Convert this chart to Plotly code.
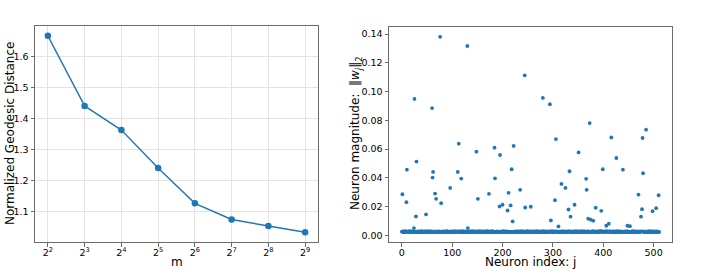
import plotly.graph_objects as go
import math

# ---- Left panel data ----
m_values = [4, 8, 16, 32, 64, 128, 256, 512]
m_ticktext = ["2<sup>2</sup>", "2<sup>3</sup>", "2<sup>4</sup>", "2<sup>5</sup>",
              "2<sup>6</sup>", "2<sup>7</sup>", "2<sup>8</sup>", "2<sup>9</sup>"]
geodesic = [1.666, 1.440, 1.362, 1.240, 1.126, 1.074, 1.053, 1.033]
geo_ticks = [1.1, 1.2, 1.3, 1.4, 1.5, 1.6]

# ---- Right panel data ----
# baseline magnitudes (units of 1e-4), 512 neurons
baseline_e4 = [
    26, 24, 28, 22, 25, 27, 23, 29, 24, 26, 21, 25, 28, 24, 27, 23, 25, 30, 22, 26, 24, 27, 25, 23, 28, 24, 26, 22, 25, 29, 24, 27,
    23, 26, 25, 28, 22, 24, 27, 25, 30, 23, 26, 24, 21, 27, 25, 28, 24, 26, 23, 25, 29, 22, 26, 24, 27, 25, 23, 28, 24, 26, 25, 22,
    27, 25, 23, 26, 29, 24, 22, 28, 25, 26, 24, 27, 23, 25, 31, 24, 26, 22, 27, 25, 28, 23, 24, 26, 25, 29, 22, 27, 24, 26, 23, 25,
    24, 28, 26, 23, 25, 27, 22, 26, 24, 29, 25, 23, 27, 24, 26, 22, 28, 25, 24, 27, 23, 26, 25, 30, 24, 22, 26, 28, 25, 23, 27, 24,
    25, 23, 33, 26, 24, 28, 22, 25, 27, 24, 26, 23, 29, 25, 24, 27, 22, 26, 25, 28, 23, 24, 27, 25, 26, 22, 29, 24, 25, 27, 23, 26,
    28, 24, 25, 22, 27, 26, 23, 25, 29, 24, 26, 28, 22, 25, 27, 23, 24, 26, 25, 30, 23, 27, 24, 22, 26, 28, 25, 24, 23, 27, 26, 25,
    22, 26, 24, 27, 25, 23, 28, 26, 24, 25, 29, 22, 27, 24, 26, 25, 23, 28, 24, 26, 27, 22, 25, 24, 29, 23, 26, 25, 27, 24, 28, 23,
    26, 25, 27, 23, 24, 28, 26, 22, 25, 27, 24, 26, 30, 23, 25, 24, 27, 22, 26, 28, 25, 24, 23, 26, 27, 25, 29, 24, 22, 26, 25, 28,
    24, 27, 25, 26, 23, 22, 28, 25, 27, 24, 26, 23, 29, 25, 24, 27, 22, 26, 25, 28, 23, 24, 26, 27, 25, 22, 29, 24, 26, 25, 23, 27,
    25, 22, 26, 28, 24, 25, 23, 27, 26, 24, 29, 25, 22, 27, 26, 24, 25, 28, 23, 26, 24, 27, 25, 30, 22, 26, 24, 28, 25, 23, 27, 26,
    23, 27, 24, 25, 28, 26, 22, 24, 27, 25, 23, 26, 29, 24, 25, 27, 22, 28, 26, 24, 25, 23, 27, 26, 24, 29, 25, 22, 26, 27, 24, 25,
    27, 24, 26, 23, 25, 29, 24, 26, 22, 27, 25, 28, 24, 23, 26, 25, 27, 22, 24, 28, 26, 25, 23, 27, 24, 26, 25, 29, 22, 26, 24, 27,
    24, 26, 22, 28, 25, 24, 27, 23, 26, 25, 32, 24, 22, 27, 26, 25, 28, 23, 24, 26, 27, 25, 22, 29, 24, 26, 25, 23, 27, 28, 24, 25,
    26, 23, 27, 25, 24, 28, 22, 26, 25, 27, 23, 24, 29, 26, 25, 22, 27, 24, 26, 28, 25, 23, 24, 27, 26, 25, 22, 28, 24, 26, 27, 23,
    25, 28, 24, 26, 23, 27, 25, 22, 26, 24, 29, 25, 27, 23, 26, 24, 28, 22, 25, 27, 24, 26, 23, 25, 28, 24, 26, 22, 27, 25, 24, 26,
    27, 24, 25, 23, 26, 28, 22, 25, 27, 24, 26, 25, 29, 23, 24, 27, 26, 22, 25, 28, 24, 26, 23, 27, 25, 24, 26, 28, 22, 25, 27, 24,
]
outlier_idx = [1, 9, 10, 24, 25, 28, 29, 48, 60, 61, 62, 66, 68, 76, 78, 96, 111, 113, 118, 130,
               131, 148, 151, 173, 184, 185, 194, 195, 200, 210, 212, 216, 218, 220, 222, 235, 244,
               245, 256, 280, 294, 296, 304, 306, 311, 317, 325, 331, 333, 335, 343, 351, 366, 367,
               370, 373, 375, 380, 385, 396, 399, 406, 411, 416, 426, 439, 448, 453, 470, 475, 477,
               478, 479, 485, 498, 505, 510]
outlier_val = [0.0286, 0.0231, 0.0457, 0.0051, 0.0949, 0.0132, 0.0513, 0.0146, 0.0885, 0.0402,
               0.0441, 0.0291, 0.0254, 0.1381, 0.0224, 0.0330, 0.0441, 0.0638, 0.0395, 0.1317,
               0.0051, 0.0582, 0.0254, 0.0289, 0.0610, 0.0397, 0.0201, 0.0559, 0.0213, 0.0173,
               0.0296, 0.0208, 0.0460, 0.0097, 0.0622, 0.0317, 0.1113, 0.0194, 0.0199, 0.0956,
               0.0912, 0.0104, 0.0245, 0.0670, 0.0062, 0.0358, 0.0330, 0.0180, 0.0446, 0.0130,
               0.0213, 0.0577, 0.0393, 0.0317, 0.0116, 0.0781, 0.0109, 0.0102, 0.0192, 0.0171,
               0.0460, 0.0067, 0.0081, 0.0681, 0.0538, 0.0457, 0.0067, 0.0064, 0.0284, 0.0130,
               0.0182, 0.0677, 0.0432, 0.0735, 0.0168, 0.0189, 0.0279]
mag_ticks = [0.00, 0.02, 0.04, 0.06, 0.08, 0.10, 0.12, 0.14]
idx_ticks = [0, 100, 200, 300, 400, 500]

neuron_index = list(range(len(baseline_e4)))
magnitude = [v * 1e-4 for v in baseline_e4]
for i, v in zip(outlier_idx, outlier_val):
    magnitude[i] = v

W, H = 708, 270
BLUE = "#1f77b4"
FRAME = "#6b6b6b"
FONT = "DejaVu Sans"

fig = go.Figure()
fig.add_trace(go.Scatter(x=m_values, y=geodesic, mode="lines+markers",
                         line=dict(color=BLUE, width=1.4),
                         marker=dict(color=BLUE, size=6.5),
                         xaxis="x", yaxis="y", showlegend=False))
fig.add_trace(go.Scatter(x=neuron_index, y=magnitude, mode="markers",
                         marker=dict(color=BLUE, size=3.8, line=dict(width=0)),
                         xaxis="x2", yaxis="y2", showlegend=False))


def px_x(a, b):
    return [a / W, b / W]


def px_y(top, bottom):
    return [1 - bottom / H, 1 - top / H]


def pt(x, y):
    return x / W, 1 - y / H


l2 = math.log10(2)
axis_common = dict(showline=True, linecolor=FRAME, linewidth=1, mirror=True,
                   ticks="outside", ticklen=3.5, tickcolor=FRAME, tickwidth=0.8,
                   tickfont=dict(family=FONT, size=9.5, color="#000"),
                   zeroline=False, automargin=False)

fig.update_layout(
    width=W, height=H,
    margin=dict(l=0, r=0, t=0, b=0),
    paper_bgcolor="white", plot_bgcolor="white",
    font=dict(family=FONT, color="#000"),
    xaxis=dict(domain=px_x(35, 318), type="log", range=[1.65 * l2, 9.35 * l2],
               tickvals=m_values, ticktext=m_ticktext,
               showgrid=True, gridcolor="#e3e3e3", gridwidth=0.8,
               ticklabelstandoff=-2, **axis_common),
    yaxis=dict(domain=px_y(26, 242), range=[1.0014, 1.6976], tickvals=geo_ticks,
               ticktext=[f"{t:.1f}" for t in geo_ticks],
               showgrid=True, gridcolor="#e3e3e3", gridwidth=0.8,
               **axis_common),
    xaxis2=dict(domain=px_x(389, 672), anchor="y2", range=[-25.55, 536.55],
                tickvals=idx_ticks, showgrid=False,
                ticklabelstandoff=-2, **axis_common),
    yaxis2=dict(domain=px_y(27, 242), anchor="x2", range=[-0.0046, 0.1449],
                tickvals=mag_ticks, ticktext=[f"{t:.2f}" for t in mag_ticks], showgrid=False,
                **axis_common),
)

title_font = dict(family=FONT, size=12, color="#000")
titles = [
    ("m", 176.5, 262, 0),
    ("Neuron index: j", 530.5, 262, 0),
    ("Normalized Geodesic Distance", 10, 134, -90),
    ("Neuron magnitude:  ‖<i>w<sub>j</sub></i>‖<sub>2</sub>", 356, 134, -90),
]
for text, x, y, ang in titles:
    ax, ay = pt(x, y)
    fig.add_annotation(text=text, x=ax, y=ay, xref="paper", yref="paper",
                       xanchor="center", yanchor="middle", textangle=ang,
                       showarrow=False, font=title_font)

# remove the page's default body margin so the figure fills the window exactly
fig.write_html("out.html", config={"displayModeBar": False},
               post_script="document.body.style.margin='0px';")
